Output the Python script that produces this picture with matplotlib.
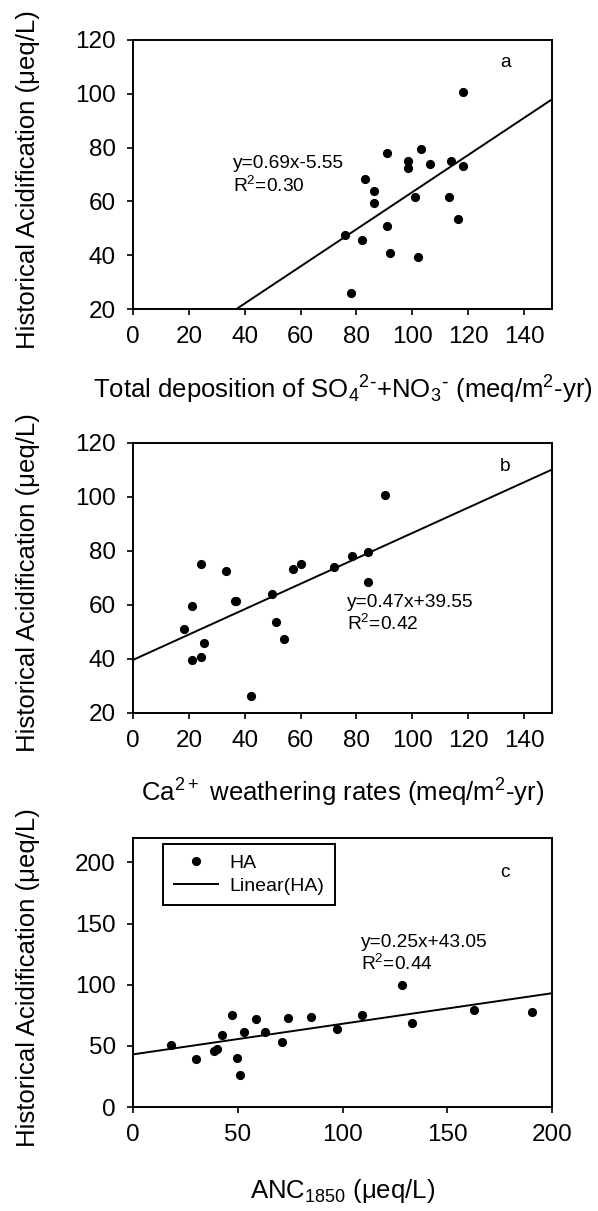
import matplotlib
matplotlib.use("Agg")
import matplotlib.pyplot as plt
import numpy as np

plt.rcParams['font.family'] = ['Liberation Sans', 'DejaVu Sans']
plt.rcParams['mathtext.default'] = 'regular'

# ---------------- data ----------------
# Panel a: total deposition of SO4 + NO3 vs historical acidification
dep_a = [118.2, 91.1, 103.1, 98.3, 98.3, 106.2, 114.0, 118.2, 83.2, 86.1,
         86.1, 101.0, 113.2, 116.2, 91.1, 76.0, 81.9, 92.0, 102.1, 78.0]
ha_a = [100.6, 77.9, 79.5, 75.2, 72.6, 73.8, 75.2, 73.3, 68.5, 63.7,
        59.4, 61.5, 61.5, 53.4, 50.9, 47.4, 45.7, 40.7, 39.3, 26.1]
fit_a = (0.69, -5.55)
eq_a = ["y=0.69x-5.55", "R$^2$=0.30"]

# Panel b: Ca2+ weathering rates vs historical acidification
ca_b = [24.2, 33.2, 36.5, 36.9, 21.2, 18.2, 25.5, 21.2, 24.2, 42.3,
        49.9, 51.2, 54.1, 57.2, 60.2, 72.1, 78.3, 84.0, 84.0, 90.2]
ha_b = [75.2, 72.5, 61.5, 61.4, 59.5, 51.1, 45.9, 39.5, 40.7, 26.3,
        64.0, 53.5, 47.4, 73.3, 75.1, 74.0, 78.0, 79.6, 68.5, 100.6]
fit_b = (0.47, 39.55)
eq_b = ["y=0.47x+39.55", "R$^2$=0.42"]

# Panel c: ANC1850 vs historical acidification
anc_c = [18.3, 30.0, 38.6, 40.0, 42.6, 47.3, 49.7, 51.0, 53.1, 58.5,
         62.9, 70.9, 74.2, 85.1, 97.5, 109.1, 128.5, 133.0, 162.8, 190.5]
ha_c = [50.7, 39.3, 45.8, 47.2, 59.1, 75.1, 40.4, 25.8, 61.6, 72.2,
        61.3, 53.2, 73.0, 73.5, 63.8, 75.1, 100.1, 68.4, 79.5, 77.9]
fit_c = (0.25, 43.05)
eq_c = ["y=0.25x+43.05", "R$^2$=0.44"]

ylabel = "Historical Acidification (\u03bceq/L)"
xlabels = [r"Total deposition of SO$_4$$^{2\text{-}}$+NO$_3$$^{\text{-}}$ (meq/m$^2$-yr)",
           "Ca$^{2+}$ weathering rates (meq/m$^2$-yr)",
           "ANC$_{1850}$ (\u03bceq/L)"]
panel_letters = ["a", "b", "c"]
xticks_ab = [0, 20, 40, 60, 80, 100, 120, 140]
yticks_ab = [20, 40, 60, 80, 100, 120]
xticks_c = [0, 50, 100, 150, 200]
yticks_c = [0, 50, 100, 150, 200]

# ---------------- figure ----------------
W, H = 598, 1211
fig = plt.figure(figsize=(W / 100, H / 100), dpi=100)

def frac_rect(left, top, right, bottom):
    return [left / W, 1 - bottom / H, (right - left) / W, (bottom - top) / H]

ax_a = fig.add_axes(frac_rect(133, 40, 552, 309))
ax_b = fig.add_axes(frac_rect(133, 442.7, 552, 712.7))
ax_c = fig.add_axes(frac_rect(133, 838, 552, 1107))

TICK_FS = 17.5
LAB_FS = 18.5
ANN_FS = 13.8

def style(ax, xlim, ylim, xt, yt):
    ax.set_xlim(*xlim)
    ax.set_ylim(*ylim)
    ax.set_xticks(xt)
    ax.set_yticks(yt)
    for s in ax.spines.values():
        s.set_linewidth(1.4)
        s.set_color('black')
    ax.tick_params(direction='out', length=4, width=1.2, labelsize=TICK_FS,
                   pad=8.5, top=False, right=False, colors='black')

def draw(ax, x, y, fit, xlim, label_pts=None, label_line=None):
    ax.plot(x, y, 'o', color='black', markersize=5.6, linestyle='none',
            label=label_pts, zorder=3)
    xs = np.array(xlim, dtype=float)
    ax.plot(xs, fit[0] * xs + fit[1], color='black', linewidth=1.4,
            label=label_line, zorder=2)

# Panel a
style(ax_a, (0, 150), (20, 120), xticks_ab, yticks_ab)
draw(ax_a, dep_a, ha_a, fit_a, (0, 150))
ax_a.text(35.8, 72.4, eq_a[0], fontsize=ANN_FS, va='baseline', ha='left')
ax_a.text(35.8, 63.4, eq_a[1], fontsize=ANN_FS, va='baseline', ha='left')
ax_a.text(133.2, 111.7, panel_letters[0], fontsize=ANN_FS, va='center', ha='center')

# Panel b
style(ax_b, (0, 150), (20, 120), xticks_ab, yticks_ab)
draw(ax_b, ca_b, ha_b, fit_b, (0, 150))
ax_b.text(76.7, 59.3, eq_b[0], fontsize=ANN_FS, va='baseline', ha='left')
ax_b.text(76.7, 50.6, eq_b[1], fontsize=ANN_FS, va='baseline', ha='left')
ax_b.text(133.2, 111.1, panel_letters[1], fontsize=ANN_FS, va='center', ha='center')

# Panel c
style(ax_c, (0, 200), (0, 220), xticks_c, yticks_c)
draw(ax_c, anc_c, ha_c, fit_c, (0, 200), label_pts="HA", label_line="Linear(HA)")
ax_c.text(108.7, 130.6, eq_c[0], fontsize=ANN_FS, va='baseline', ha='left')
ax_c.text(108.7, 112.0, eq_c[1], fontsize=ANN_FS, va='baseline', ha='left')
ax_c.text(177.6, 191.6, panel_letters[2], fontsize=ANN_FS, va='center', ha='center')
leg = ax_c.legend(loc='upper left', bbox_to_anchor=(0.0716, 0.978),
                  borderaxespad=0, fontsize=14, frameon=True, fancybox=False,
                  edgecolor='black', framealpha=1, numpoints=1,
                  handlelength=2.3, handletextpad=0.55, borderpad=0.55,
                  labelspacing=0.25)
leg.get_frame().set_linewidth(1.4)

# Axis labels as figure text
for ax, top, bot, xl, base in [(ax_a, 40, 309, xlabels[0], 399),
                               (ax_b, 442.7, 712.7, xlabels[1], 802),
                               (ax_c, 838, 1107, xlabels[2], 1198)]:
    cy = (top + bot) / 2 + 5
    fig.text(28 / W, 1 - cy / H, ylabel, rotation=90, ha='center', va='center',
             fontsize=LAB_FS)
    fig.text((133 + 552) / 2 / W, 1 - base / H, xl, ha='center', va='baseline',
             fontsize=LAB_FS)

fig.savefig("out.png", dpi=100)
